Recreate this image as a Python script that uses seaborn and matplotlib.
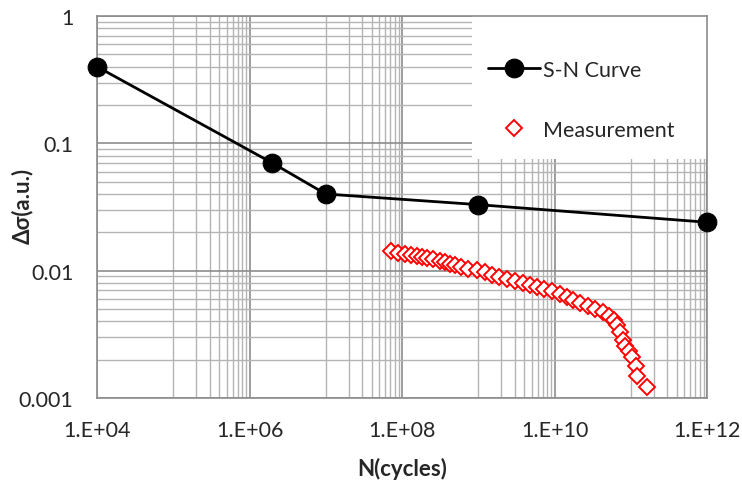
import numpy as np
import pandas as pd
import matplotlib
matplotlib.use("Agg")
import matplotlib.pyplot as plt
import seaborn as sns
from matplotlib.ticker import FixedLocator, FuncFormatter, NullFormatter
from matplotlib.patches import Rectangle

# ---- data ----
sn_cycles = [1e4, 2e6, 1e7, 1e9, 1e12]
sn_stress = [0.40, 0.070, 0.040, 0.033, 0.024]

meas_cycles = [7.2e7, 8.9e7, 1.09e8, 1.31e8, 1.57e8, 1.83e8, 2.13e8, 2.55e8, 3.15e8, 3.66e8,
               4.27e8, 4.96e8, 5.94e8, 7.35e8, 9.64e8, 1.23e9, 1.51e9, 1.87e9, 2.38e9, 3.03e9,
               3.86e9, 4.77e9, 5.89e9, 7.28e9, 9.27e9, 1.18e10, 1.46e10, 1.75e10, 2.16e10, 2.75e10,
               3.40e10, 4.33e10, 5.19e10, 6.03e10, 6.61e10, 7.23e10, 7.23e10, 7.91e10, 8.41e10, 9.49e10,
               1.04e11, 1.17e11, 1.21e11, 1.63e11]
meas_stress = [0.01426, 0.01375, 0.01350, 0.01327, 0.01302, 0.01279, 0.01256, 0.01233, 0.01189, 0.01169,
               0.01127, 0.01107, 0.01067, 0.01030, 0.01011, 0.00975, 0.00923, 0.00891, 0.00859, 0.00828,
               0.00798, 0.00771, 0.00743, 0.00716, 0.00691, 0.00655, 0.00621, 0.00588, 0.00557, 0.00527,
               0.00499, 0.00473, 0.00440, 0.00409, 0.00374, 0.00348, 0.00318, 0.00285, 0.00256, 0.00233,
               0.00210, 0.00178, 0.00149, 0.00122]

x_major = [1e4, 1e6, 1e8, 1e10, 1e12]
y_major = [1e-3, 1e-2, 1e-1, 1]
y_tick_labels = ["0.001", "0.01", "0.1", "1"]

sn_df = pd.DataFrame({"N": sn_cycles, "S": sn_stress})
meas_df = pd.DataFrame({"N": meas_cycles, "S": meas_stress})

sns.set_style("white")
plt.rcParams["font.family"] = ["Lato", "DejaVu Sans"]

TXT = "#262626"
fig = plt.figure(figsize=(7.42, 4.81), dpi=100)
ax = fig.add_axes([97 / 742, 1 - 399 / 481, 610 / 742, 382 / 481])
ax.set_xscale("log")
ax.set_yscale("log")

sns.lineplot(data=sn_df, x="N", y="S", ax=ax, color="black", linewidth=2.0,
             marker="o", markersize=13.5, markeredgecolor="black", label="S-N Curve",
             zorder=4, sort=False, clip_on=False)
sns.lineplot(data=meas_df, x="N", y="S", ax=ax, color="red", linestyle="none",
             marker="D", markersize=8, markerfacecolor="white", markeredgecolor="#ff0000",
             markeredgewidth=1.4, label="Measurement", zorder=3, sort=False)

ax.set_xlim(1e4, 1e12)
ax.set_ylim(1e-3, 1)

# minor locations (Excel-like: x base 100, y base 10)
x_minor = []
for k in [5, 7, 9, 11]:
    for j in range(1, 10):
        x_minor.append(j * 10.0 ** k)
y_minor = []
for k in [-3, -2, -1]:
    for j in range(2, 10):
        y_minor.append(j * 10.0 ** k)

ax.xaxis.set_major_locator(FixedLocator(x_major))
ax.xaxis.set_minor_locator(FixedLocator(x_minor))
ax.yaxis.set_major_locator(FixedLocator(y_major))
ax.yaxis.set_minor_locator(FixedLocator(y_minor))
ax.xaxis.set_major_formatter(FuncFormatter(lambda v, p: "1.E+%02d" % int(round(np.log10(v)))))
ax.yaxis.set_major_formatter(FuncFormatter(
    lambda v, p: y_tick_labels[int(np.argmin([abs(np.log10(t) - np.log10(v)) for t in y_major]))]))
ax.xaxis.set_minor_formatter(NullFormatter())
ax.yaxis.set_minor_formatter(NullFormatter())

ax.grid(True, which="major", color="#8c8c8c", linewidth=1.2)
ax.grid(True, which="minor", color="#b4b4b4", linewidth=1.0)
ax.set_axisbelow(True)

for s in ax.spines.values():
    s.set_color("#8c8c8c")
    s.set_linewidth(1.2)

ax.tick_params(axis="both", which="major", direction="inout", length=10, width=1.2,
               color="#8c8c8c", labelsize=15.5, labelcolor=TXT)
ax.tick_params(axis="x", which="major", pad=11)
ax.tick_params(axis="y", which="major", pad=12)
ax.tick_params(axis="both", which="minor", length=0)

ax.set_xlabel("N(cycles)", fontsize=16, fontweight="bold", color=TXT)
ax.set_ylabel("Δσ(a.u.)", fontsize=16, fontweight="bold", color=TXT)
ax.xaxis.set_label_coords(0.5, -0.155)
ax.yaxis.set_label_coords(-0.105, 0.505)

# white legend background box (as in the reference)
ax.add_patch(Rectangle((0.615, 0.626), 0.385, 0.374, transform=ax.transAxes,
                       facecolor="white", edgecolor="none", zorder=2.5))

leg = ax.legend(loc="upper left", bbox_to_anchor=(0.641, 0.886), frameon=False,
                fontsize=15.5, labelspacing=1.86, handlelength=2.4, handletextpad=0.15,
                borderpad=0.0, borderaxespad=0.0)
leg.set_zorder(5)
for t in leg.get_texts():
    t.set_color(TXT)

fig.savefig("out.png", dpi=100)
